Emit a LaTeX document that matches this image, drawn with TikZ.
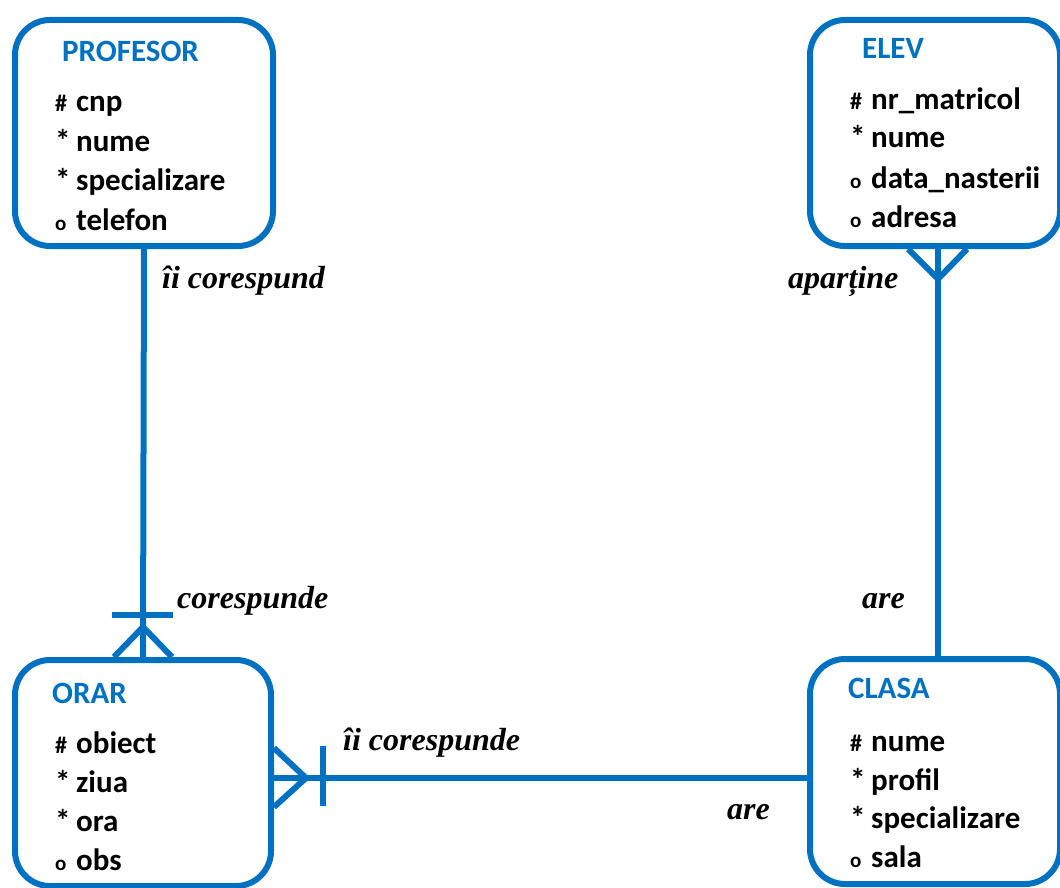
\documentclass[tikz,border=0pt]{standalone}
\usepackage{fontspec}
\setmainfont{Liberation Serif}
\newfontfamily\calfont{Carlito}
\usetikzlibrary{calc}
\definecolor{erblue}{HTML}{0070C0}
\tikzset{
  ent/.style={draw=erblue, line width=6pt, rounded corners=35pt, inner sep=0pt},
  rel/.style={draw=erblue, line width=6pt},
  ttl/.style={anchor=base west, inner sep=0pt, font=\calfont\bfseries\fontsize{31}{37}\selectfont, text=erblue},
  att/.style={anchor=base west, inner sep=0pt, font=\calfont\bfseries\fontsize{31}{37}\selectfont},
  lbl/.style={anchor=base west, inner sep=0pt, font=\bfseries\itshape\fontsize{32}{38}\selectfont},
}
\newcommand{\pk}{\makebox[21pt][l]{\fontsize{24}{24}\selectfont\#}}
\newcommand{\mand}{\makebox[21pt][l]{*}}
\newcommand{\opt}{\makebox[21pt][l]{\fontsize{21}{21}\selectfont o}}
\begin{document}
\begin{tikzpicture}[x=1pt,y=-1pt]
\useasboundingbox (0,0) rectangle (1060,888);
% entities
\node[ent, minimum width=258pt, minimum height=226pt] (prof) at (144,133) {};
\node[ent, minimum width=256pt, minimum height=226pt] (orar) at (143,773) {};
\node[ent, minimum width=250pt, minimum height=226pt] (elev) at (935,133) {};
\node[ent, minimum width=250pt, minimum height=225pt] (clasa) at (935,771.5) {};
% titles
\node[ttl] (tprof) at (62,62) {PROFESOR};
\node[ttl] (telev) at (862,59) {ELEV};
\node[ttl] (torar) at (52,703) {ORAR};
\node[ttl] (tclasa) at (848,698) {CLASA};
% attributes
\node[att] (p1) at (55,112) {\pk cnp};
\node[att] (p2) at (55,152) {\mand nume};
\node[att] (p3) at (55,190) {\mand specializare};
\node[att] (p4) at (55,230) {\opt telefon};
\node[att] (e1) at (850,110) {\pk nr\_matricol};
\node[att] (e2) at (850,148) {\mand nume};
\node[att] (e3) at (850,188) {\opt data\_nasterii};
\node[att] (e4) at (850,227) {\opt adresa};
\node[att] (o1) at (55,753) {\pk obiect};
\node[att] (o2) at (55,792) {\mand ziua};
\node[att] (o3) at (55,831) {\mand ora};
\node[att] (o4) at (55,870) {\opt obs};
\node[att] (c1) at (850,751) {\pk nume};
\node[att] (c2) at (850,790) {\mand profil};
\node[att] (c3) at (850,828) {\mand specializare};
\node[att] (c4) at (850,867) {\opt sala};
% connectors
\coordinate (ec) at (938,0);
\coordinate (hc) at (0,778);
\draw[rel] (prof.south) -- (orar.north);
\draw[rel] (elev.south -| ec) -- (clasa.north -| ec);
\draw[rel] (orar.east |- hc) -- (clasa.west |- hc);
% PROFESOR - ORAR end at ORAR: bar + crow's foot
\draw[rel] ($(orar.north)+(-29,0)$) -- ($(orar.north)+(0,-30)$) -- ($(orar.north)+(29,0)$);
\draw[rel] ($(orar.north)+(-31,-42)$) -- ($(orar.north)+(30,-42)$);
% ELEV crow's foot
\draw[rel] ($(elev.south -| ec)+(-30,0)$) -- ($(elev.south -| ec)+(0,30)$) -- ($(elev.south -| ec)+(29,0)$);
% ORAR - CLASA end at ORAR
\draw[rel] ($(orar.east |- hc)+(0,-30)$) -- ($(orar.east |- hc)+(32,0)$) -- ($(orar.east |- hc)+(0,29)$);
\draw[rel] ($(orar.east |- hc)+(49,-32)$) -- ($(orar.east |- hc)+(49,28)$);
% labels
\node[lbl] (l1) at (162,288) {îi corespund};
\node[lbl] (l2) at (788,288) {aparține};
\node[lbl] (l3) at (177,608) {corespunde};
\node[lbl] (l4) at (862,608) {are};
\node[lbl] (l5) at (343,750) {îi corespunde};
\node[lbl] (l6) at (727,819) {are};
\end{tikzpicture}
\end{document}
